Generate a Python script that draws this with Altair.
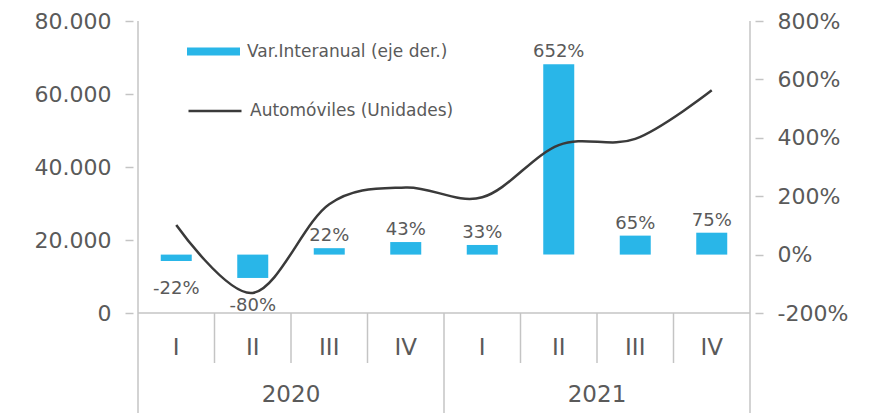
import altair as alt
import pandas as pd

# ---- data ----
quarters = ["I", "II", "III", "IV", "I", "II", "III", "IV"]
years = ["2020", "2021"]
autos = [24100, 5500, 29800, 34400, 31700, 46000, 47700, 61000]   # Automóviles (Unidades), left axis
var_ia = [-22, -80, 22, 43, 33, 652, 65, 75]                       # Var. interanual %, right axis

BAR_NAME = "Var.Interanual (eje der.)"
LINE_NAME = "Automóviles (Unidades)"

left_ticks = [0, 20000, 40000, 60000, 80000]
right_ticks = [-200, 0, 200, 400, 600, 800]

# ---- layout / style ----
W, H = 622, 292
FONT = "DejaVu Sans"
TXT = "#5a5a5a"
AX = "#c4c4c4"
BLUE = "#29b6e8"
DARK = "#3a3a3a"

n = len(quarters)
per_year = n // len(years)

df = pd.DataFrame({
    "pos": [i + 0.5 for i in range(n)],
    "q": quarters,
    "autos": autos,
    "var": var_ia,
    "label": [f"{v}%" for v in var_ia],
    "sb": BAR_NAME,
    "sl": LINE_NAME,
})
years_df = pd.DataFrame({
    "pos": [k * per_year + per_year / 2 for k in range(len(years))],
    "year": years,
})
short_sep = pd.DataFrame({"pos": [i for i in range(1, n) if i % per_year != 0]})
long_sep = pd.DataFrame({"pos": [i for i in range(1, n) if i % per_year == 0]})
frame_df = pd.DataFrame({"pos": [0, n]})
base_df = pd.DataFrame({"pos": [0], "pos_end": [n]})

xscale = alt.Scale(domain=[0, n], nice=False, zero=False)
xenc = alt.X("pos:Q", scale=xscale, axis=None)

axis_common = dict(
    domain=False, grid=False, ticks=True, tickColor=AX, tickWidth=1.5, tickSize=8,
    labelFont=FONT, labelFontSize=22, labelColor=TXT, title=None, labelPadding=14,
)
legend_common = dict(
    orient="none", legendX=54, title=None, symbolSize=2809, labelFont=FONT,
    labelFontSize=17, labelColor=TXT, labelOffset=7, padding=0, labelLimit=0,
)

# line (left axis)
line = alt.Chart(df).mark_line(interpolate="cardinal", strokeWidth=2.5).encode(
    x=xenc,
    y=alt.Y("autos:Q",
            scale=alt.Scale(domain=[0, 80000], nice=False),
            axis=alt.Axis(orient="left", values=left_ticks,
                          labelExpr="replace(format(datum.value, ','), ',', '.')",
                          **axis_common)),
    stroke=alt.Stroke("sl:N",
                      scale=alt.Scale(domain=[LINE_NAME], range=[DARK]),
                      legend=alt.Legend(legendY=62, symbolType="stroke",
                                        symbolStrokeWidth=2.5, **legend_common)),
)

# bars (right axis)
bar_scale = alt.Scale(domain=[-200, 800], nice=False)
bars = alt.Chart(df).mark_bar(size=31, orient="vertical").encode(
    x=xenc,
    y=alt.Y("var:Q", scale=bar_scale, stack=None,
            axis=alt.Axis(orient="right", values=right_ticks,
                          labelExpr="datum.value + '%'", **axis_common)),
    color=alt.Color("sb:N",
                    scale=alt.Scale(domain=[BAR_NAME], range=[BLUE]),
                    legend=alt.Legend(legendY=4, symbolType="M-1,-0.15H1V0.15H-1Z",
                                      symbolStrokeWidth=0, **legend_common)),
)
ylab = alt.Y("var:Q", scale=bar_scale, axis=None)
lab_pos = alt.Chart(df).transform_filter("datum.var >= 0").mark_text(
    baseline="bottom", dy=-3, font=FONT, fontSize=18, color=TXT).encode(
    x=xenc, y=ylab, text="label:N")
lab_neg = alt.Chart(df).transform_filter("datum.var < 0").mark_text(
    baseline="top", dy=19, font=FONT, fontSize=18, color=TXT).encode(
    x=xenc, y=ylab, text="label:N")

# category axis decorations
quarter_txt = alt.Chart(df).mark_text(font=FONT, fontSize=23, color=TXT,
                                      baseline="middle").encode(
    x=xenc, y=alt.value(H + 35), text="q:N")
year_txt = alt.Chart(years_df).mark_text(font=FONT, fontSize=23, color=TXT,
                                         baseline="middle").encode(
    x=xenc, y=alt.value(H + 82), text="year:N")
sep_s = alt.Chart(short_sep).mark_rule(color=AX, strokeWidth=1.5).encode(
    x=xenc, y=alt.value(H), y2=alt.value(H + 50))
sep_l = alt.Chart(long_sep).mark_rule(color=AX, strokeWidth=1.5).encode(
    x=xenc, y=alt.value(H), y2=alt.value(H + 100))
frame = alt.Chart(frame_df).mark_rule(color=AX, strokeWidth=1.5).encode(
    x=xenc, y=alt.value(0), y2=alt.value(H + 100))
baseline = alt.Chart(base_df).mark_rule(color=AX, strokeWidth=1.5).encode(
    x=xenc, x2="pos_end:Q", y=alt.value(H))

chart = alt.layer(
    bars, line, lab_pos, lab_neg, sep_s, sep_l, frame, baseline, quarter_txt, year_txt
).resolve_scale(y="independent").properties(
    width=W, height=H,
    autosize=alt.AutoSizeParams(type="none"),
    padding={"left": 125, "top": 13, "right": 110, "bottom": 100},
).configure_view(stroke=None)

chart.save("out.html", embed_options={"renderer": "svg", "actions": False})
